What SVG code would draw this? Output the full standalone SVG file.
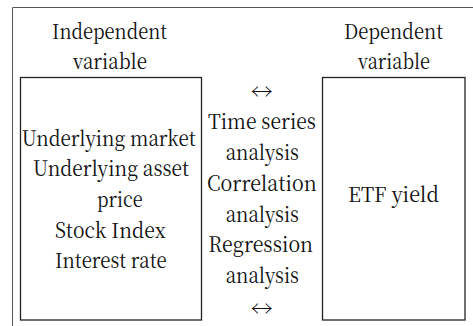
<svg xmlns="http://www.w3.org/2000/svg" width="473" height="326" viewBox="0 0 473 326" font-family="'Noto Serif CJK KR', 'Liberation Serif', serif" font-size="21" fill="#111">
<style>
.box{fill:#fff;stroke:#222;stroke-width:1.3}
.frame{fill:none;stroke:#555;stroke-width:1}
</style>
<rect width="473" height="326" fill="#fff"/>
<path class="frame" d="M12.5,326 V7.5 H473"/>
<g id="independent-header">
<text x="52" y="39" textLength="115" lengthAdjust="spacingAndGlyphs">Independent</text>
<text x="73" y="69" textLength="74" lengthAdjust="spacingAndGlyphs">variable</text>
</g>
<g id="dependent-header">
<text x="344" y="39" textLength="99" lengthAdjust="spacingAndGlyphs">Dependent</text>
<text x="358" y="69" textLength="72" lengthAdjust="spacingAndGlyphs">variable</text>
</g>
<g id="independent">
<rect class="box" x="20.5" y="77.5" width="181" height="242.5"/>
<text x="21.7" y="145.5" textLength="174" lengthAdjust="spacingAndGlyphs">Underlying market</text>
<text x="33" y="176" textLength="156" lengthAdjust="spacingAndGlyphs">Underlying asset</text>
<text x="97" y="206.5" textLength="45.7" lengthAdjust="spacingAndGlyphs">price</text>
<text x="55" y="237.5" textLength="110.7" lengthAdjust="spacingAndGlyphs">Stock Index</text>
<text x="55" y="268" textLength="111.7" lengthAdjust="spacingAndGlyphs">Interest rate</text>
</g>
<g id="dependent">
<rect class="box" x="322.5" y="77.5" width="142.5" height="242.5"/>
<text x="348" y="202" textLength="91" lengthAdjust="spacingAndGlyphs">ETF yield</text>
</g>
<g id="connectors">
<text x="250.7" y="99" textLength="22" lengthAdjust="spacingAndGlyphs">↔</text>
<text x="208" y="128.5" textLength="108" lengthAdjust="spacingAndGlyphs">Time series</text>
<text x="225.7" y="159.5" textLength="73.3" lengthAdjust="spacingAndGlyphs">analysis</text>
<text x="207" y="190.5" textLength="109.7" lengthAdjust="spacingAndGlyphs">Correlation</text>
<text x="225.7" y="221.5" textLength="73.3" lengthAdjust="spacingAndGlyphs">analysis</text>
<text x="208.3" y="252" textLength="104.7" lengthAdjust="spacingAndGlyphs">Regression</text>
<text x="225.7" y="282.5" textLength="73.3" lengthAdjust="spacingAndGlyphs">analysis</text>
<text x="250.7" y="316" textLength="22" lengthAdjust="spacingAndGlyphs">↔</text>
</g>
</svg>
